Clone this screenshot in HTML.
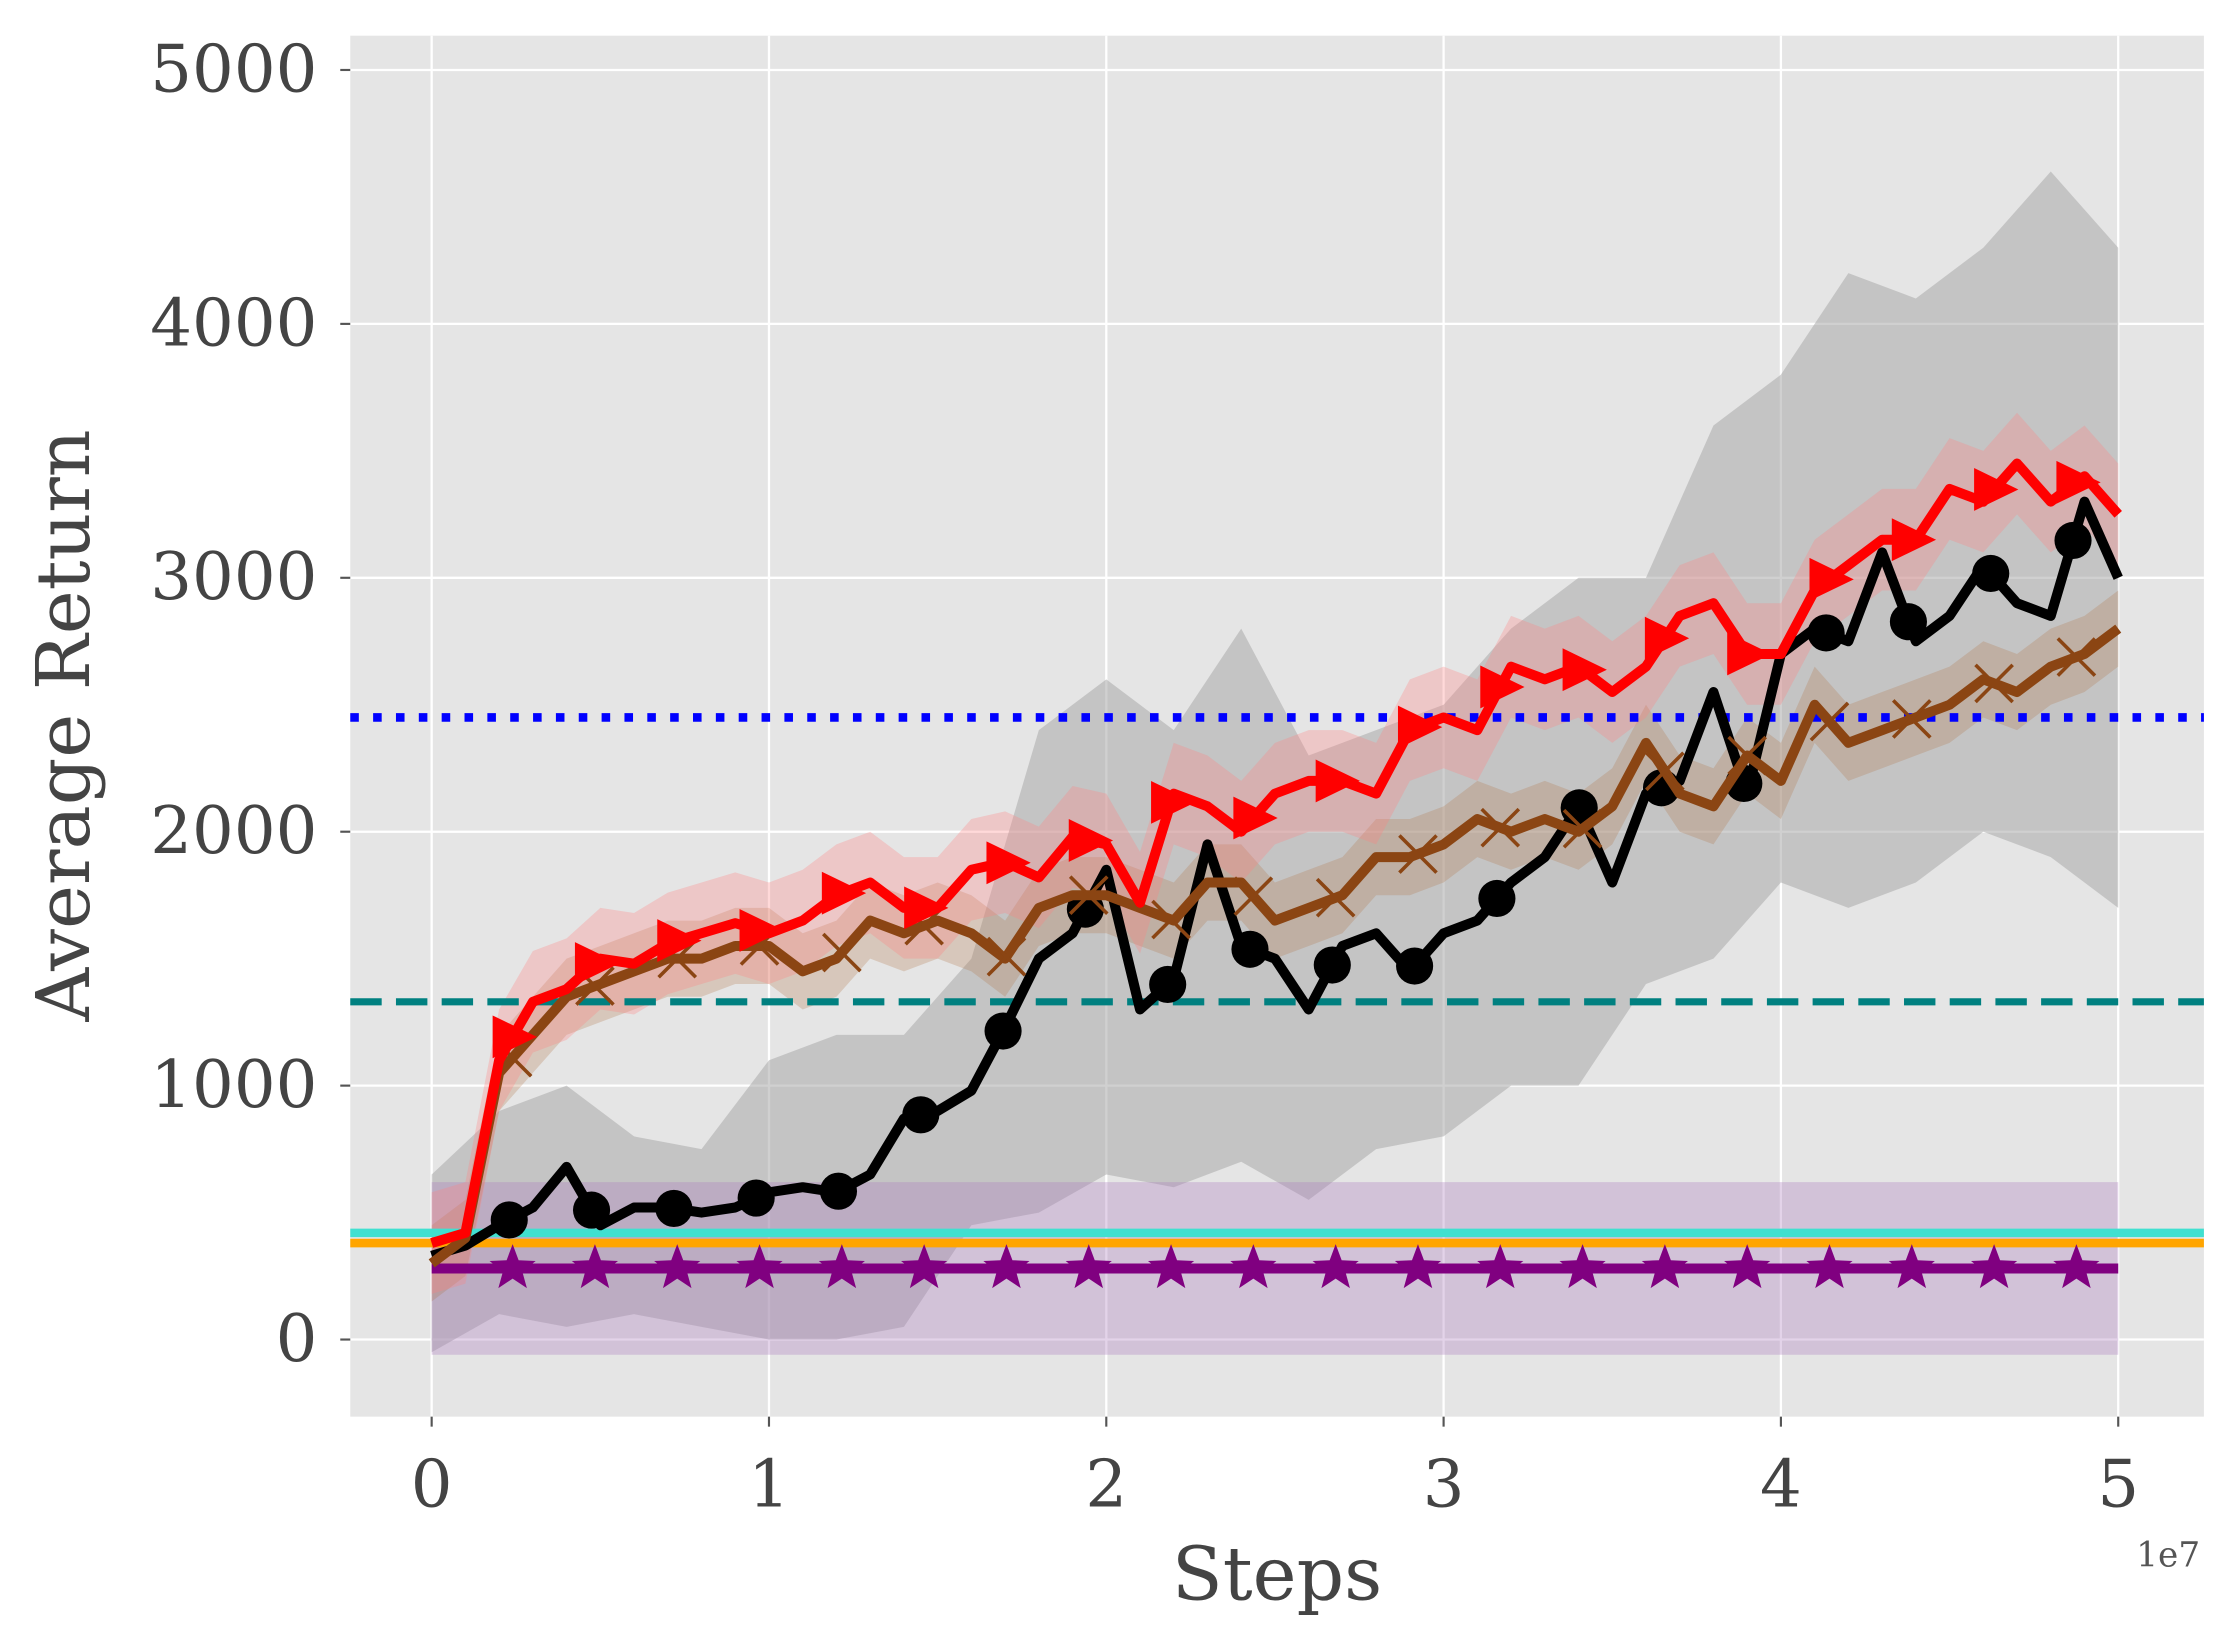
<!DOCTYPE html>
<html><head><meta charset="utf-8">
<style>html,body{margin:0;padding:0;background:#fff}svg{display:block}</style>
</head><body>
<svg id="chart" width="2240" height="1648" viewBox="0 0 1568 1154" xmlns="http://www.w3.org/2000/svg" font-family="'DejaVu Serif','Liberation Serif',serif">
<rect x="0" y="0" width="1568" height="1154" fill="#fff"/>
<rect x="245" y="25" width="1298" height="967" fill="#e5e5e5"/>
<g id="grid"></g><g id="bands"></g><g id="hlines"></g><g id="lines"></g><g id="axes"></g>
</svg>
<script>
const xTicks=[0,1,2,3,4,5];
const yTicks=[0,1000,2000,3000,4000,5000];
const steps=[];for(let i=0;i<=50;i++)steps.push(i);
const redVals=[380,420,1100,1330,1380,1500,1480,1560,1600,1640,1600,1650,1750,1800,1700,1700,1850,1880,1820,1980,1950,1720,2150,2100,2000,2150,2200,2200,2150,2400,2450,2400,2650,2600,2650,2550,2650,2850,2900,2700,2700,2950,3050,3150,3150,3350,3300,3450,3300,3400,3250];
const brownVals=[300,400,1050,1200,1350,1400,1450,1500,1500,1550,1550,1450,1500,1650,1600,1650,1600,1500,1700,1750,1750,1700,1650,1800,1800,1650,1700,1750,1900,1900,1950,2050,2000,2050,2000,2100,2350,2150,2100,2300,2200,2500,2350,2400,2450,2500,2600,2550,2650,2700,2800];
const blackVals=[330,370,450,520,680,450,520,520,500,520,580,600,580,650,870,900,980,1230,1500,1600,1850,1300,1420,1950,1550,1500,1300,1550,1600,1450,1600,1650,1800,1900,2100,1800,2150,2200,2550,2150,2700,2800,2750,3100,2750,2850,3050,2900,2850,3300,3000];
const purpleVals=steps.map(()=>280);
const bandSteps=[0,2,4,6,8,10,12,14,16,18,20,22,24,26,28,30,32,34,36,38,40,42,44,46,48,50];
const blackHi=[650,900,1000,800,750,1100,1200,1200,1500,2400,2600,2400,2800,2300,2400,2500,2800,3000,3000,3600,3800,4200,4100,4300,4600,4300];
const blackLo=[-50,100,50,100,50,0,0,50,450,500,650,600,700,550,750,800,1000,1000,1400,1500,1800,1700,1800,2000,1900,1700];
const redSpread=200, brownSpread=150;
const purpleHi=620, purpleLo=-60;
const hLines=[{v:2450,c:'#0000ff',d:'6,10',w:6,n:'blue-dotted-baseline'},{v:1330,c:'#008080',d:'22,10',w:5,n:'teal-dashed-baseline'},{v:420,c:'#40e0d0',d:'',w:6,n:'cyan-baseline'},{v:380,c:'#ffa500',d:'',w:6,n:'orange-baseline'}];

const X=v=>302+v*236.2/10, Y=v=>938-v*0.1778;
const NS='http://www.w3.org/2000/svg';
function mk(t,a,p){const e=document.createElementNS(NS,t);for(const k in a)e.setAttribute(k,a[k]);document.getElementById(p).appendChild(e);return e;}
const interp=(vals,x)=>{const i=Math.min(49,Math.floor(x));const f=x-i;return vals[i]*(1-f)+vals[i+1]*f;};
xTicks.forEach(t=>{const g=mk('line',{x1:X(t*10),x2:X(t*10),y1:25,y2:992,stroke:'#fff','stroke-width':1.6},'grid');});
yTicks.forEach(t=>{const g=mk('line',{x1:245,x2:1543,y1:Y(t),y2:Y(t),stroke:'#fff','stroke-width':1.6},'grid');});
function band(xs,hi,lo,fill,op,name){let d='M'+xs.map((s,i)=>X(s)+','+Y(hi[i])).join('L');d+='L'+xs.slice().reverse().map((s,i)=>X(s)+','+Y(lo[lo.length-1-i])).join('L')+'Z';const p=mk('path',{d,fill,'fill-opacity':op},'bands');}
band(bandSteps,blackHi,blackLo,'#aaaaaa',0.55,'black-std-band');
band([0,50],[purpleHi,purpleHi],[purpleLo,purpleLo],'#b080c0',0.35,'purple-std-band');
band(steps,brownVals.map(v=>v+brownSpread),brownVals.map(v=>v-brownSpread),'#b07040',0.25,'brown-std-band');
band(steps,redVals.map(v=>v+redSpread),redVals.map(v=>v-redSpread),'#ff8080',0.3,'red-std-band');
hLines.forEach(h=>{const l=mk('line',{x1:245,x2:1543,y1:Y(h.v),y2:Y(h.v),stroke:h.c,'stroke-width':h.w,'stroke-dasharray':h.d},'hlines');});
function line(vals,c,w,name){const p=mk('polyline',{points:steps.map((s,i)=>X(s)+','+Y(vals[i])).join(' '),fill:'none',stroke:c,'stroke-width':w,'stroke-linejoin':'round'},'lines');}
function star(cx,cy,r){let pts=[];for(let k=0;k<10;k++){const a=-Math.PI/2+k*Math.PI/5,rr=k%2?r*0.42:r;pts.push((cx+rr*Math.cos(a))+','+(cy+rr*Math.sin(a)));}return pts.join(' ');}
line(purpleVals,'#800080',7,'purple-line');
for(let s=2.4;s<50;s+=2.44){const m=mk('polygon',{points:star(X(s),Y(interp(purpleVals,s)),17),fill:'#800080'},'lines');}
line(blackVals,'#000',7,'black-line');
for(let s=2.3;s<50;s+=2.44){const m=mk('circle',{cx:X(s),cy:Y(interp(blackVals,s)),r:13,fill:'#000'},'lines');}
line(brownVals,'#8b4513',7,'brown-line');
for(let s=2.4;s<50;s+=2.44){const cx=X(s),cy=Y(interp(brownVals,s));const m=mk('path',{d:`M${cx-13},${cy-13}L${cx+13},${cy+13}M${cx-13},${cy+13}L${cx+13},${cy-13}`,stroke:'#8b4513','stroke-width':2.5},'lines');}
line(redVals,'#ff0000',7,'red-line');
for(let s=2.4;s<50;s+=2.44){const cx=X(s),cy=Y(interp(redVals,s));const m=mk('polygon',{points:`${cx-14},${cy-15} ${cx+17},${cy} ${cx-14},${cy+15}`,fill:'#ff0000'},'lines');}
xTicks.forEach(t=>{mk('line',{x1:X(t*10),x2:X(t*10),y1:992,y2:999,stroke:'#555','stroke-width':1.5},'axes');const e=mk('text',{x:X(t*10),y:1055,'font-size':46,fill:'#444','text-anchor':'middle'},'axes');e.textContent=t;});
yTicks.forEach(t=>{mk('line',{x1:238,x2:245,y1:Y(t),y2:Y(t),stroke:'#555','stroke-width':1.5},'axes');const e=mk('text',{x:222,y:Y(t)+15,'font-size':46,fill:'#444','text-anchor':'end'},'axes');e.textContent=t;});
let e=mk('text',{x:894,y:1120,'font-size':52,fill:'#444','text-anchor':'middle'},'axes');e.textContent='Steps';
e=mk('text',{x:1518,y:1097,'font-size':24,fill:'#555','text-anchor':'middle'},'axes');e.textContent='1e7';
e=mk('text',{x:0,y:0,'font-size':52,fill:'#444','text-anchor':'middle',transform:'translate(62,508) rotate(-90)'},'axes');e.textContent='Average Return';
</script>
</body></html>
